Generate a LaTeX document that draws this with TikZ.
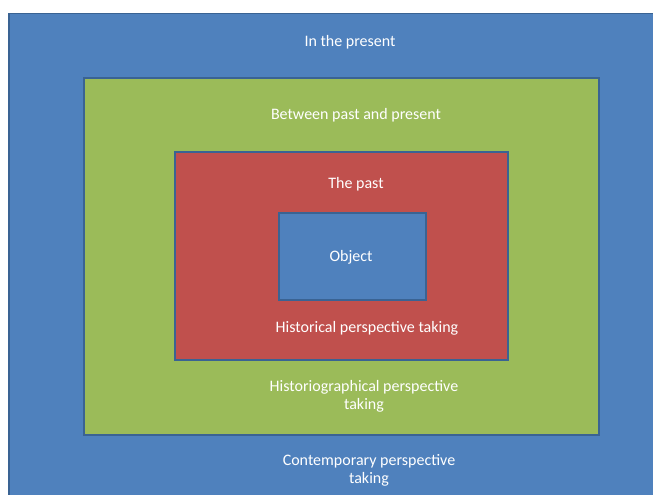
\documentclass[tikz,border=0pt]{standalone}
\usepackage{fontspec}
\setmainfont{Carlito}
\usetikzlibrary{positioning}
\definecolor{ofblue}{HTML}{4F81BD}
\definecolor{ofgreen}{HTML}{9BBB59}
\definecolor{ofred}{HTML}{C0504D}
\definecolor{ofline}{HTML}{3A6393}

\begin{document}
\begin{tikzpicture}[x=1pt, y=-1pt, font=\fontsize{16}{18}\selectfont,
  layer/.style={draw=ofline, line width=1.5pt, anchor=north west, inner sep=0pt},
  present/.style={layer, fill=ofblue},
  between/.style={layer, fill=ofgreen},
  past/.style={layer, fill=ofred},
  object/.style={layer, fill=ofblue},
  lbl/.style={text=white, align=center, inner sep=1pt}]
  \clip (0,0) rectangle (653,495);
  \useasboundingbox (0,0) rectangle (653,495);
  \node[present, minimum width=660pt, minimum height=500pt] (l1) at (8,13){};
  \node[between, minimum width=515pt, minimum height=357pt] (l2) at (83,77){};
  \node[past, minimum width=333pt, minimum height=208pt] (l3) at (174,151){};
  \node[object, minimum width=147pt, minimum height=87pt] (l4) at (278,212){};
  \node[lbl] (t1) at (350,42){In the present};
  \node[lbl] (t2) at (356,115){Between past and present};
  \node[lbl] (t3) at (356,184){The past};
  \node[lbl] (t4) at (351,257){Object};
  \node[lbl] (t5) at (367,328){Historical perspective taking};
  \node[lbl] (t6) at (364,396){Historiographical perspective\\ taking};
  \node[lbl] (t7) at (369,470){Contemporary perspective\\ taking};
\end{tikzpicture}
\end{document}
